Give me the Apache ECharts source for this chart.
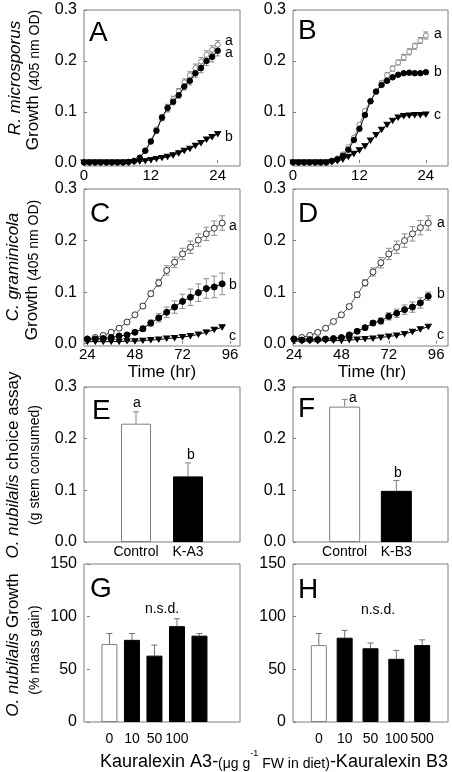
<!DOCTYPE html>
<html><head><meta charset="utf-8">
<script src="https://cdn.jsdelivr.net/npm/echarts@6/dist/echarts.min.js"></script>
<style>html,body{margin:0;padding:0;background:#fff}#c{width:452px;height:772px}</style>
</head><body><div id="c"></div>
<script>
// ---------- DATA ----------
const hoursAB = [0,1,2,3,4,5,6,7,8,9,10,11,12,13,14,15,16,17,18,19,20,21,22,23,24];
const hoursCD = [24,28,32,36,40,44,48,52,56,60,64,68,72,76,80,84,88,92];
const tickAB = [0,12,24];
const tickCD = [24,48,72,96];
const tickGrowth = [0,0.1,0.2,0.3];
const tickMass = [0,50,100,150];

// Panel A (R. microsporus, K-A3)
const A_open      = [0.001,0.001,0.001,0.001,0.001,0.001,0.001,0.001,0.002,0.004,0.011,0.024,0.043,0.066,0.088,0.107,0.125,0.140,0.158,0.172,0.186,0.199,0.212,0.222,0.232];
const A_openErr   = [0,0,0,0,0,0,0,0,0,0,0.001,0.002,0.003,0.003,0.005,0.007,0.006,0.006,0.007,0.007,0.008,0.008,0.008,0.008,0.008];
const A_filled    = [0.001,0.001,0.001,0.001,0.001,0.001,0.001,0.001,0.002,0.004,0.010,0.024,0.042,0.063,0.089,0.108,0.120,0.133,0.150,0.161,0.176,0.186,0.200,0.208,0.220];
const A_filledErr = [0,0,0,0,0,0,0,0,0,0,0.001,0.002,0.003,0.004,0.006,0.007,0.006,0.006,0.007,0.008,0.008,0.009,0.009,0.010,0.010];
const A_tri       = [0.001,0.001,0.001,0.001,0.001,0.001,0.001,0.001,0.001,0.002,0.003,0.004,0.006,0.008,0.010,0.012,0.015,0.019,0.024,0.028,0.034,0.039,0.046,0.051,0.057];

// Panel B (R. microsporus, K-B3)
const B_open      = [0.001,0.001,0.001,0.001,0.001,0.001,0.001,0.003,0.009,0.017,0.031,0.050,0.075,0.102,0.122,0.140,0.157,0.172,0.185,0.197,0.207,0.218,0.229,0.240,0.250];
const B_openErr   = [0,0,0,0,0,0,0,0,0,0.001,0.001,0.002,0.002,0.003,0.003,0.004,0.004,0.005,0.005,0.005,0.006,0.006,0.006,0.006,0.007];
const B_filled    = [0.001,0.001,0.001,0.001,0.001,0.001,0.001,0.004,0.007,0.014,0.026,0.045,0.067,0.094,0.121,0.140,0.153,0.161,0.168,0.173,0.176,0.177,0.176,0.176,0.178];
const B_filledErr = [0,0,0,0,0,0,0,0,0,0.001,0.001,0.002,0.002,0.002,0.003,0.003,0.003,0.003,0.003,0.003,0.003,0.003,0.003,0.003,0.003];
const B_tri       = [0.001,0.001,0.001,0.001,0.001,0.001,0.001,0.002,0.004,0.007,0.012,0.018,0.025,0.033,0.044,0.055,0.065,0.075,0.083,0.089,0.092,0.093,0.094,0.094,0.095];

// Panel C (C. graminicola, K-A3)
const C_open      = [0.009,0.012,0.016,0.022,0.030,0.042,0.056,0.073,0.097,0.118,0.142,0.158,0.174,0.187,0.201,0.213,0.224,0.234];
const C_openErr   = [0.001,0.001,0.002,0.002,0.002,0.003,0.003,0.004,0.005,0.007,0.009,0.010,0.011,0.012,0.012,0.013,0.014,0.014];
const C_filled    = [0.009,0.009,0.010,0.012,0.015,0.017,0.022,0.029,0.040,0.050,0.061,0.071,0.082,0.090,0.099,0.107,0.110,0.116];
const C_filledErr = [0.001,0.001,0.002,0.002,0.002,0.003,0.004,0.005,0.006,0.008,0.010,0.012,0.014,0.016,0.017,0.019,0.021,0.021];
const C_tri       = [0.004,0.004,0.004,0.004,0.004,0.005,0.005,0.006,0.007,0.008,0.010,0.011,0.013,0.015,0.018,0.022,0.027,0.032];

// Panel D (C. graminicola, K-B3)
const D_open      = [0.009,0.012,0.016,0.022,0.030,0.043,0.056,0.072,0.095,0.118,0.139,0.157,0.174,0.187,0.200,0.213,0.225,0.234];
const D_openErr   = [0.001,0.001,0.002,0.002,0.002,0.003,0.003,0.004,0.005,0.006,0.008,0.010,0.011,0.012,0.013,0.014,0.014,0.014];
const D_filled    = [0.009,0.007,0.008,0.008,0.009,0.010,0.012,0.017,0.024,0.031,0.040,0.044,0.053,0.059,0.066,0.071,0.079,0.092];
const D_filledErr = [0.001,0.001,0.001,0.001,0.002,0.002,0.002,0.003,0.003,0.004,0.005,0.006,0.007,0.008,0.009,0.010,0.010,0.008];
const D_tri       = [0.005,0.005,0.005,0.005,0.006,0.006,0.006,0.007,0.008,0.009,0.010,0.012,0.014,0.016,0.019,0.023,0.028,0.033];

// Panels E/F (choice assay)
const choiceCatsA = ['Control','K-A3'];
const choiceCatsB = ['Control','K-B3'];
const choiceA     = [0.229,0.127];
const choiceAErr  = [0.023,0.026];
const choiceB     = [0.262,0.099];
const choiceBErr  = [0.014,0.020];

// Panels G/H (growth)
const doseLabels  = ['0','10','50','100','500'];
const growthA     = [74,78,63,91,82];
const growthAErr  = [10,6,10,7,2];
const growthB     = [73,80,70,60,73];
const growthBErr  = [11,7,5,8,5];

// ---------- CHART ----------
const FONT = 'Liberation Sans, Arial, sans-serif';
const BOX = '#7f7f7f';
const chart = echarts.init(document.getElementById('c'), null, {renderer:'canvas'});

const grids = [
  {left:84, top:10, width:156, height:156},   // A
  {left:293, top:10, width:155, height:156},  // B
  {left:84, top:189, width:156, height:157},  // C
  {left:293, top:189, width:155, height:157}, // D
  {left:84, top:387, width:156, height:155},  // E
  {left:293, top:387, width:155, height:155}, // F
  {left:84, top:564, width:156, height:158},  // G
  {left:293, top:564, width:155, height:158}  // H
].map(g => Object.assign({show:true, borderColor:BOX, borderWidth:1, backgroundColor:'transparent', containLabel:false}, g));

function xAx(i, min, max, ticks, fmt, margin, showTick, fs) {
  return {type:'value', gridIndex:i, min, max, position:'bottom',
    axisLine:{show:false}, splitLine:{show:false},
    axisTick:{show:showTick, inside:true, length:3, lineStyle:{color:BOX}, customValues:ticks},
    axisLabel:{customValues:ticks, formatter:fmt, color:'#000', fontFamily:FONT, fontSize:fs, margin}};
}
function yAx(i, min, max, ticks, fmt) {
  return {type:'value', gridIndex:i, min, max,
    axisLine:{show:false}, splitLine:{show:false},
    axisTick:{show:true, inside:true, length:3, lineStyle:{color:BOX}, customValues:ticks},
    axisLabel:{customValues:ticks, formatter:fmt, color:'#000', fontFamily:FONT, fontSize:16, margin:7}};
}
const f1 = v => (+v).toFixed(1);
const f0 = v => String(Math.round(v));

const xAxes = [
  xAx(0, 0, 28, tickAB, f0, 2, true, 15),
  xAx(1, 0, 28, tickAB, f0, 2, true, 15),
  xAx(2, 22.3, 101, tickCD, f0, 1, true, 15),
  xAx(3, 23.5, 102, tickCD, f0, 1, true, 15),
  xAx(4, 0, 3, [1,2], v => choiceCatsA[Math.round(v)-1] || '', 3, false, 14),
  xAx(5, 0, 3, [1,2], v => choiceCatsB[Math.round(v)-1] || '', 3, false, 14),
  xAx(6, -0.13, 6.8, [1,2,3,4,5], v => doseLabels[Math.round(v)-1] || '', 10, false, 14),
  xAx(7, 0, 6, [1,2,3,4,5], v => doseLabels[Math.round(v)-1] || '', 10, false, 14)
];
const yAxes = [
  yAx(0, -0.006, 0.3, tickGrowth, f1),
  yAx(1, -0.006, 0.3, tickGrowth, f1),
  yAx(2, -0.0045, 0.3, tickGrowth, f1),
  yAx(3, -0.0045, 0.3, tickGrowth, f1),
  yAx(4, 0, 0.3, tickGrowth, f1),
  yAx(5, 0, 0.3, tickGrowth, f1),
  yAx(6, 0, 150, tickMass, f0),
  yAx(7, 0, 150, tickMass, f0)
];

function lineS(i, xs, ys, sym, size, fill, stroke, lineColor, z) {
  return {type:'line', xAxisIndex:i, yAxisIndex:i, data:xs.map((x,k)=>[x, ys[k]]),
    symbol:sym, symbolSize:size, symbolRotate: sym==='triangle' ? 180 : 0, showAllSymbol:true,
    itemStyle:{color:fill, borderColor:stroke, borderWidth:1},
    lineStyle:{color:lineColor, width:1}, z:z, silent:true, animation:false, clip:false};
}
function errS(i, xs, ys, es, color, upOnly, cap) {
  return {type:'custom', xAxisIndex:i, yAxisIndex:i, silent:true, animation:false, z:1, clip:false,
    data: xs.map((x,k)=>[x, ys[k], es[k]]),
    encode:{x:0, y:1},
    renderItem:(params, api) => {
      const x = api.value(0), y = api.value(1), e = api.value(2);
      if (!e) return {type:'group', children:[]};
      const t = api.coord([x, y+e]);
      const b = api.coord([x, upOnly ? y : y-e]);
      const st = {stroke:color, lineWidth:1};
      const ch = [
        {type:'line', shape:{x1:t[0], y1:t[1], x2:b[0], y2:b[1]}, style:st},
        {type:'line', shape:{x1:t[0]-cap, y1:t[1], x2:t[0]+cap, y2:t[1]}, style:st}
      ];
      if (!upOnly) ch.push({type:'line', shape:{x1:b[0]-cap, y1:b[1], x2:b[0]+cap, y2:b[1]}, style:st});
      return {type:'group', children:ch};
    }};
}
function barS(i, vals, width, firstWhite) {
  return {type:'bar', xAxisIndex:i, yAxisIndex:i, barWidth:width, silent:true, animation:false, z:2,
    data: vals.map((v,k)=>({value:[k+1, v], itemStyle: (k===0 && firstWhite)
      ? {color:'#fff', borderColor:'#808080', borderWidth:1}
      : {color:'#000', borderColor:'#000', borderWidth:1}}))};
}
const idx = a => a.map((_,k)=>k+1);

const ERR = '#8c8c8c';
const series = [
  // A
  errS(0, hoursAB, A_open, A_openErr, ERR, false, 2.5),
  errS(0, hoursAB, A_filled, A_filledErr, ERR, false, 2.5),
  lineS(0, hoursAB, A_open, 'circle', 5, '#fff', '#8a8a8a', '#8a8a8a', 3),
  lineS(0, hoursAB, A_tri, 'triangle', [6,5], '#000', '#000', '#000', 3),
  lineS(0, hoursAB, A_filled, 'circle', 5.5, '#000', '#000', '#000', 4),
  // B
  errS(1, hoursAB, B_open, B_openErr, ERR, false, 2.5),
  errS(1, hoursAB, B_filled, B_filledErr, ERR, false, 2.5),
  lineS(1, hoursAB, B_open, 'circle', 5, '#fff', '#8a8a8a', '#8a8a8a', 3),
  lineS(1, hoursAB, B_tri, 'triangle', [6,5], '#000', '#000', '#000', 3),
  lineS(1, hoursAB, B_filled, 'circle', 5.5, '#000', '#000', '#000', 4),
  // C
  errS(2, hoursCD, C_open, C_openErr, ERR, false, 3),
  errS(2, hoursCD, C_filled, C_filledErr, ERR, false, 3),
  lineS(2, hoursCD, C_open, 'circle', 6, '#fff', '#333', '#555', 3),
  lineS(2, hoursCD, C_tri, 'triangle', [6,5], '#000', '#000', '#000', 3),
  lineS(2, hoursCD, C_filled, 'circle', 6, '#000', '#000', '#000', 4),
  // D
  errS(3, hoursCD, D_open, D_openErr, ERR, false, 3),
  errS(3, hoursCD, D_filled, D_filledErr, ERR, false, 3),
  lineS(3, hoursCD, D_open, 'circle', 6, '#fff', '#333', '#555', 3),
  lineS(3, hoursCD, D_tri, 'triangle', [6,5], '#000', '#000', '#000', 3),
  lineS(3, hoursCD, D_filled, 'circle', 6, '#000', '#000', '#000', 4),
  // E/F
  barS(4, choiceA, 30, true),
  errS(4, idx(choiceA), choiceA, choiceAErr, '#808080', true, 3),
  barS(5, choiceB, 31, true),
  errS(5, idx(choiceB), choiceB, choiceBErr, '#808080', true, 3),
  // G/H
  barS(6, growthA, 16, true),
  errS(6, idx(growthA), growthA, growthAErr, '#707070', true, 3),
  barS(7, growthB, 16, true),
  errS(7, idx(growthB), growthB, growthBErr, '#707070', true, 3)
];

function txt(x, y, text, fs, align, extra) {
  return Object.assign({type:'text', x, y, silent:true, z:10,
    style:{text, fontFamily:FONT, fontSize:fs, fill:'#000', align:align||'left', verticalAlign:'middle'}}, extra||{});
}
function rot(x, y, text) {
  return {type:'text', x, y, rotation:Math.PI/2, silent:true, z:10,
    style:{text, fontFamily:FONT, fill:'#000', align:'center', verticalAlign:'middle',
      rich:{
        i:{fontStyle:'italic', fontSize:17, fontFamily:FONT, verticalAlign:'bottom', lineHeight:20},
        n:{fontSize:17, fontFamily:FONT, verticalAlign:'bottom', lineHeight:20},
        s:{fontSize:14, fontFamily:FONT, verticalAlign:'bottom', lineHeight:19}
      }}};
}

const graphic = [
  // panel letters
  txt(89, 33, 'A', 28), txt(298, 31, 'B', 28), txt(90, 214, 'C', 28), txt(298, 214, 'D', 28),
  txt(92, 411, 'E', 28), txt(298, 409, 'F', 28), txt(90, 589, 'G', 28), txt(298, 590, 'H', 28),
  // curve letters
  txt(225, 41, 'a', 14), txt(225, 53, 'a', 14), txt(225, 137, 'b', 14),
  txt(434, 34, 'a', 14), txt(434, 72, 'b', 14), txt(434, 115, 'c', 14),
  txt(229, 226, 'a', 14), txt(229, 285, 'b', 14), txt(229, 336, 'c', 14),
  txt(437, 223, 'a', 14), txt(437, 294, 'b', 14), txt(437, 335, 'c', 14),
  // bar letters
  txt(137, 403, 'a', 14, 'center'), txt(191, 455, 'b', 14, 'center'),
  txt(353, 398, 'a', 14, 'center'), txt(398, 473, 'b', 14, 'center'),
  txt(162, 609, 'n.s.d.', 14, 'center'), txt(378, 610, 'n.s.d.', 14, 'center'),
  // axis titles
  txt(162, 372, 'Time (hr)', 17, 'center'), txt(372, 372, 'Time (hr)', 17, 'center'),
  rot(14, 78, '{i|R. microsporus}'), rot(32, 80, '{n|Growth }{s|(405 nm OD)}'),
  rot(12, 267, '{i|C. graminicola}'), rot(31, 270, '{n|Growth }{s|(405 nm OD)}'),
  rot(12, 465, '{i|O. nubilalis}{n| choice assay}'), rot(33, 465, '{s|(g stem consumed)}'),
  rot(12, 645, '{i|O. nubilalis}{n| Growth}'), rot(33, 650, '{s|(% mass gain)}'),
  {type:'text', x:274, y:760, silent:true, z:10,
    style:{text:'{b|Kauralexin A3-}{s|(\u03bcg g}{p|-1}{s| FW in diet)}{b|-Kauralexin B3}',
      fontFamily:FONT, fill:'#000', align:'center', verticalAlign:'middle',
      rich:{
        b:{fontSize:18, fontFamily:FONT, verticalAlign:'bottom', lineHeight:22},
        s:{fontSize:14, fontFamily:FONT, verticalAlign:'bottom', lineHeight:20},
        p:{fontSize:9, fontFamily:FONT, verticalAlign:'top', lineHeight:22}
      }}}
];

chart.setOption({
  animation:false,
  backgroundColor:'#fff',
  grid:grids, xAxis:xAxes, yAxis:yAxes, series, graphic
});
</script>
</body></html>
